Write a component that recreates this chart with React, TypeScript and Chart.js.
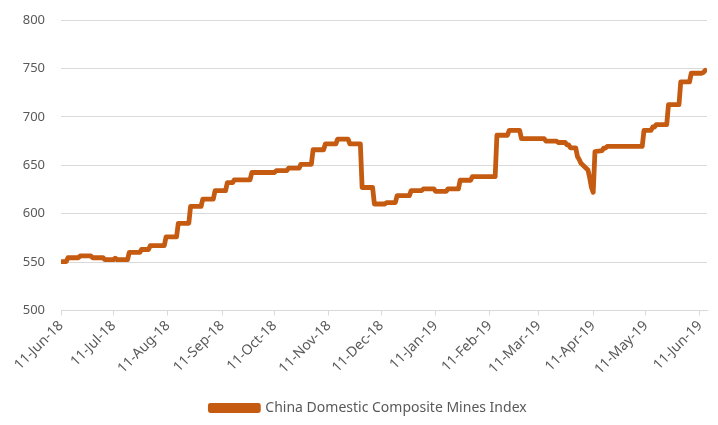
import { useEffect, useRef } from "react";
import { Chart, registerables } from "chart.js";

Chart.register(...registerables);

const seriesName = "China Domestic Composite Mines Index";

const dates = [
  "2018-06-11", "2018-06-14", "2018-06-15", "2018-06-21", "2018-06-22", "2018-06-28", "2018-06-29",
  "2018-07-05", "2018-07-06", "2018-07-11", "2018-07-12", "2018-07-13", "2018-07-19", "2018-07-20",
  "2018-07-26", "2018-07-27", "2018-07-31", "2018-08-01", "2018-08-09", "2018-08-10", "2018-08-16",
  "2018-08-17", "2018-08-23", "2018-08-24", "2018-08-30", "2018-08-31", "2018-09-06", "2018-09-07",
  "2018-09-13", "2018-09-14", "2018-09-17", "2018-09-18", "2018-09-27", "2018-09-28", "2018-10-11",
  "2018-10-12", "2018-10-18", "2018-10-19", "2018-10-25", "2018-10-26", "2018-11-01", "2018-11-02",
  "2018-11-08", "2018-11-09", "2018-11-15", "2018-11-16", "2018-11-22", "2018-11-23", "2018-11-29",
  "2018-11-30", "2018-12-06", "2018-12-07", "2018-12-13", "2018-12-14", "2018-12-19", "2018-12-20",
  "2018-12-27", "2018-12-28", "2019-01-03", "2019-01-04", "2019-01-10", "2019-01-11", "2019-01-17",
  "2019-01-18", "2019-01-24", "2019-01-25", "2019-01-31", "2019-02-01", "2019-02-14", "2019-02-15",
  "2019-02-21", "2019-02-22", "2019-02-28", "2019-03-01", "2019-03-14", "2019-03-15", "2019-03-21",
  "2019-03-22", "2019-03-26", "2019-03-27", "2019-03-28", "2019-03-29", "2019-04-01", "2019-04-02",
  "2019-04-03", "2019-04-04", "2019-04-08", "2019-04-09", "2019-04-10", "2019-04-11", "2019-04-12",
  "2019-04-16", "2019-04-17", "2019-04-18", "2019-04-19", "2019-05-09", "2019-05-10", "2019-05-14",
  "2019-05-15", "2019-05-16", "2019-05-17", "2019-05-23", "2019-05-24", "2019-05-30", "2019-05-31",
  "2019-06-05", "2019-06-06", "2019-06-12", "2019-06-13", "2019-06-14",
];

const values = [
  550.5, 550.5, 554.5, 554.5, 556.5, 556.5, 554.5,
  554.5, 552.5, 552.5, 554, 552.5, 552.5, 560,
  560, 563, 563, 567, 567, 576, 576,
  590, 590, 607.5, 607.5, 615, 615, 623.8,
  623.8, 632, 632, 635, 635, 642.5, 642.5,
  644.5, 644.5, 647, 647, 651, 651, 666,
  666, 672, 672, 677, 677, 672, 672,
  627, 627, 610, 610, 611.5, 611.5, 618.6,
  618.6, 623.8, 623.8, 625.6, 625.6, 623, 623,
  625.5, 625.5, 634.5, 634.5, 638.3, 638.3, 681,
  681, 686, 686, 677.5, 677.5, 675, 675,
  673.5, 673.5, 671, 671, 668, 668, 659,
  656, 652, 645, 637, 627, 622, 664,
  665, 667.7, 667.7, 669.5, 669.5, 686, 686,
  689.5, 689.5, 692, 692, 712.6, 712.6, 736,
  736, 745, 745, 746, 748,
];

const tickDates = [
  "2018-06-11", "2018-07-11", "2018-08-11", "2018-09-11", "2018-10-11", "2018-11-11", "2018-12-11",
  "2019-01-11", "2019-02-11", "2019-03-11", "2019-04-11", "2019-05-11", "2019-06-11",
];

const tickLabels = [
  "11-Jun-18", "11-Jul-18", "11-Aug-18", "11-Sep-18", "11-Oct-18", "11-Nov-18", "11-Dec-18",
  "11-Jan-19", "11-Feb-19", "11-Mar-19", "11-Apr-19", "11-May-19", "11-Jun-19",
];

const yMin = 500;
const yMax = 800;
const yStep = 50;
const xEndDate = "2019-06-15";

const toDay = (s: string) => {
  const [y, m, d] = s.split("-").map(Number);
  return (Date.UTC(y, m - 1, d) - Date.UTC(2018, 5, 11)) / 86400000;
};

const legendShift = {
  id: "legendShift",
  afterLayout(chart: any) {
    const lg = chart.legend;
    if (lg) {
      lg.left += 15;
      lg.right += 15;
    }
  },
};

export default function App() {
  const ref = useRef<HTMLCanvasElement | null>(null);

  useEffect(() => {
    if (!ref.current) return;
    const tickDays = tickDates.map(toDay);
    const color = "#C55A11";
    const family = "'Noto Sans', 'Open Sans', sans-serif";
    const chart = new Chart(ref.current, {
      type: "line",
      plugins: [legendShift],
      data: {
        datasets: [
          {
            label: seriesName,
            data: dates.map((d, i) => ({ x: toDay(d), y: values[i] })),
            borderColor: color,
            backgroundColor: color,
            borderWidth: 4.8,
            pointRadius: 0,
            tension: 0,
            borderCapStyle: "round",
            borderJoinStyle: "round",
          },
        ],
      },
      options: {
        animation: false,
        responsive: false,
        devicePixelRatio: 1,
        layout: { padding: { left: 0, right: 11, top: 20, bottom: 0 } },
        plugins: {
          legend: {
            position: "bottom",
            labels: {
              color: "#595959",
              font: { family, size: 14 },
              boxWidth: 48,
              boxHeight: 5,
              padding: 8,
            },
          },
          tooltip: { enabled: false },
        },
        scales: {
          x: {
            type: "linear",
            min: 0,
            max: toDay(xEndDate),
            afterBuildTicks: (scale: any) => {
              scale.ticks = tickDays.map((v) => ({ value: v }));
            },
            afterFit: (scale: any) => {
              scale.height = 82.5;
            },
            ticks: {
              autoSkip: false,
              minRotation: 45,
              maxRotation: 45,
              padding: 2,
              color: "#595959",
              font: { family, size: 14 },
              callback: (v: any) => {
                const i = tickDays.indexOf(Number(v));
                return i >= 0 ? tickLabels[i] : "";
              },
            },
            grid: {
              drawOnChartArea: false,
              drawTicks: true,
              tickLength: 5,
              tickColor: "#D9D9D9",
            },
            border: { display: true, color: "#D9D9D9" },
          },
          y: {
            min: yMin,
            max: yMax,
            ticks: { stepSize: yStep, padding: 16, color: "#595959", font: { family, size: 13 } },
            afterFit: (scale: any) => {
              scale.width = 61;
              scale.paddingTop = 8;
              scale.paddingBottom = 8;
            },
            grid: { color: "#D9D9D9", drawTicks: false, lineWidth: 1 },
            border: { display: false },
          },
        },
      },
    });
    return () => chart.destroy();
  }, []);

  return (
    <div style={{ position: "fixed", left: 0, top: 0, width: 718, height: 425, background: "#fff" }}>
      <canvas ref={ref} width={718} height={425} />
    </div>
  );
}
